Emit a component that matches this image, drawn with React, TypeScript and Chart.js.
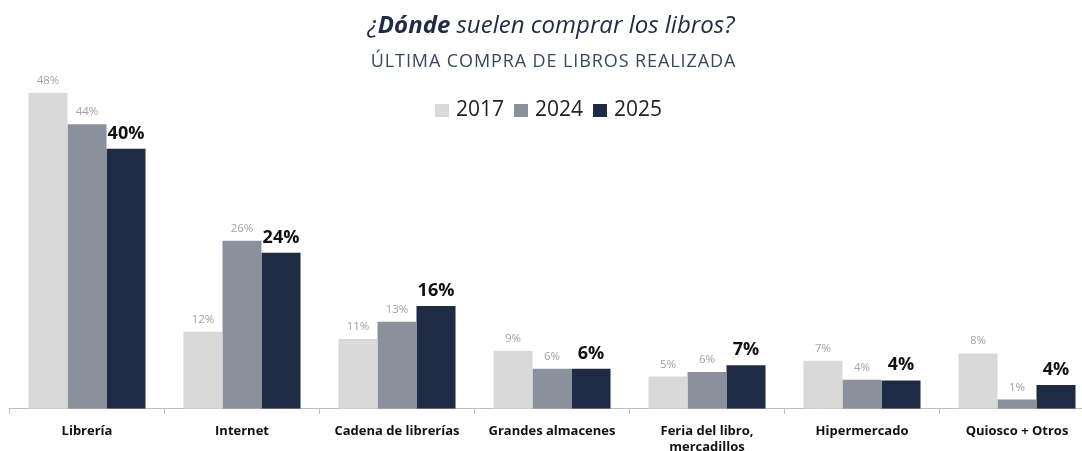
import React, { useEffect, useRef } from "react";
import { Chart, registerables } from "chart.js";

Chart.register(...registerables);

const categories: (string | string[])[] = [
  "Librería",
  "Internet",
  "Cadena de librerías",
  "Grandes almacenes",
  ["Feria del libro,", "mercadillos"],
  "Hipermercado",
  "Quiosco + Otros",
];

const seriesNames = ["2017", "2024", "2025"];
const values2017 = [48, 11.7, 10.6, 8.8, 4.9, 7.3, 8.4];
const values2024 = [43.2, 25.5, 13.2, 6.1, 5.6, 4.4, 1.4];
const values2025 = [39.5, 23.7, 15.6, 6.1, 6.6, 4.3, 3.6];
const labels2017 = ["48%", "12%", "11%", "9%", "5%", "7%", "8%"];
const labels2024 = ["44%", "26%", "13%", "6%", "6%", "4%", "1%"];
const labels2025 = ["40%", "24%", "16%", "6%", "7%", "4%", "4%"];

const colors = ["#d9d9d9", "#8a909c", "#1f2a44"];
const FONT = "'Open Sans', 'DejaVu Sans', sans-serif";

const labelSets = [labels2017, labels2024, labels2025];

const CANVAS_W = 1100;
const CANVAS_H = 469;

const valueLabelPlugin = {
  id: "valueLabels",
  afterDatasetsDraw(chart: any) {
    const ctx = chart.ctx;
    ctx.save();
    ctx.textAlign = "center";
    ctx.textBaseline = "alphabetic";
    chart.data.datasets.forEach((ds: any, di: number) => {
      const meta = chart.getDatasetMeta(di);
      const texts = labelSets[di];
      meta.data.forEach((bar: any, i: number) => {
        if (di === 2) {
          ctx.font = `bold 18px ${FONT}`;
          ctx.fillStyle = "#111111";
          ctx.fillText(texts[i], bar.x, bar.y - 10);
        } else {
          ctx.font = `11.5px ${FONT}`;
          ctx.fillStyle = "#a3a3a3";
          ctx.fillText(texts[i], bar.x, bar.y - 9);
        }
      });
    });
    ctx.restore();
  },
};

export default function App() {
  const canvasRef = useRef<HTMLCanvasElement | null>(null);

  useEffect(() => {
    const canvas = canvasRef.current;
    if (!canvas) return;
    canvas.width = CANVAS_W;
    canvas.height = CANVAS_H;
    const chart = new Chart(canvas, {
      type: "bar",
      data: {
        labels: categories,
        datasets: [values2017, values2024, values2025].map((vals, i) => ({
          label: seriesNames[i],
          data: vals,
          backgroundColor: colors[i],
          borderWidth: 0,
          categoryPercentage: 0.755,
          barPercentage: 1.0,
        })),
      },
      options: {
        responsive: false,
        maintainAspectRatio: false,
        animation: false,
        devicePixelRatio: 1,
        layout: { padding: { left: 9.5, right: 5.5, top: 79.5, bottom: 4 } },
        plugins: {
          legend: { display: false },
          title: { display: false },
          tooltip: { enabled: false },
        },
        scales: {
          x: {
            offset: true,
            grid: {
              display: true,
              drawOnChartArea: false,
              drawTicks: true,
              tickLength: 5,
              color: "#bfbfbf",
              offset: true,
            },
            border: { display: true, color: "#bfbfbf" },
            ticks: {
              color: "#111111",
              padding: 10,
              font: { family: FONT, size: 13, weight: "bold" },
              maxRotation: 0,
              autoSkip: false,
            },
          },
          y: {
            display: false,
            min: 0,
            max: 50,
          },
        },
      },
      plugins: [valueLabelPlugin],
    });
    return () => chart.destroy();
  }, []);

  return (
    <div
      style={{
        position: "fixed",
        left: 0,
        top: 0,
        width: 1082,
        height: 451,
        overflow: "hidden",
        background: "#ffffff",
      }}
    >
      <canvas
        ref={canvasRef}
        width={CANVAS_W}
        height={CANVAS_H}
        style={{ position: "absolute", left: 0, top: 0, width: CANVAS_W, height: CANVAS_H }}
      />
      <div
        style={{
          position: "absolute",
          left: 0,
          top: 12,
          width: 1102,
          textAlign: "center",
          fontFamily: FONT,
          fontStyle: "italic",
          fontSize: 24,
          lineHeight: "24px",
          color: "#1f2a44",
          whiteSpace: "nowrap",
        }}
      >
        ¿<b>Dónde</b> suelen comprar los libros?
      </div>
      <div
        style={{
          position: "absolute",
          left: 0,
          top: 51,
          width: 1107,
          textAlign: "center",
          fontFamily: FONT,
          fontSize: 18,
          lineHeight: "18px",
          letterSpacing: "0.9px",
          color: "#3b4660",
          whiteSpace: "nowrap",
        }}
      >
        ÚLTIMA COMPRA DE LIBROS REALIZADA
      </div>
      <div
        style={{
          position: "absolute",
          left: 0,
          top: 97,
          width: 1097,
          display: "flex",
          justifyContent: "center",
          alignItems: "center",
          fontFamily: FONT,
          fontSize: 21,
          lineHeight: "22px",
          color: "#222222",
          whiteSpace: "nowrap",
        }}
      >
        {seriesNames.map((name, i) => (
          <span key={name} style={{ display: "inline-flex", alignItems: "center", marginLeft: i === 0 ? 0 : 10 }}>
            <span
              style={{
                display: "inline-block",
                width: 14,
                height: 13,
                background: colors[i],
                marginRight: 7,
                marginTop: 4,
              }}
            />
            {name}
          </span>
        ))}
      </div>
    </div>
  );
}
